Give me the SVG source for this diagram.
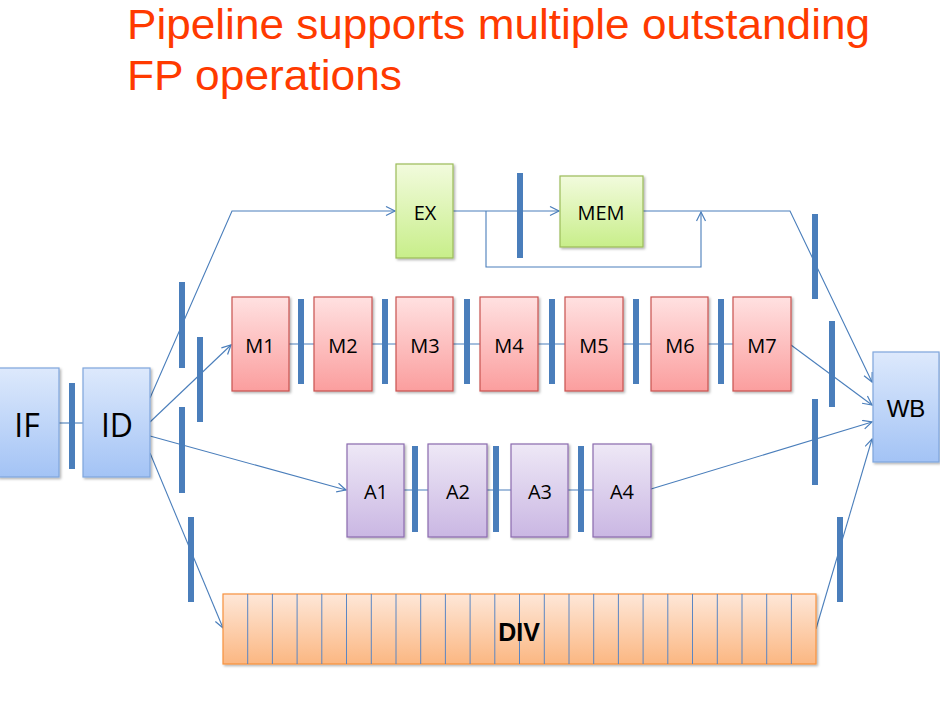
<svg xmlns="http://www.w3.org/2000/svg" width="940" height="706" viewBox="0 0 940 706">
<defs>
<linearGradient id="gBlue" x1="0" y1="0" x2="0" y2="1"><stop offset="0" stop-color="#dde9fc"/><stop offset="1" stop-color="#a3c3f5"/></linearGradient>
<linearGradient id="gRed" x1="0" y1="0" x2="0" y2="1"><stop offset="0" stop-color="#ffe1e1"/><stop offset="1" stop-color="#fb9e9e"/></linearGradient>
<linearGradient id="gGreen" x1="0" y1="0" x2="0" y2="1"><stop offset="0" stop-color="#f2fbdd"/><stop offset="1" stop-color="#c8ee8a"/></linearGradient>
<linearGradient id="gPurple" x1="0" y1="0" x2="0" y2="1"><stop offset="0" stop-color="#eee8f6"/><stop offset="1" stop-color="#cab7e3"/></linearGradient>
<linearGradient id="gOrange" x1="0" y1="0" x2="0" y2="1"><stop offset="0" stop-color="#fee7d8"/><stop offset="1" stop-color="#fbb782"/></linearGradient>
<filter id="sh" x="-10%" y="-10%" width="130%" height="130%"><feDropShadow dx="1.5" dy="1.5" stdDeviation="1.2" flood-color="#000" flood-opacity="0.3"/></filter>
<marker id="arr" markerWidth="12" markerHeight="12" refX="10" refY="5" orient="auto" markerUnits="userSpaceOnUse"><path d="M1,0.5 L10,5 L1,9.5" fill="none" stroke="#4a7ebb" stroke-width="1.2"/></marker>
</defs>
<style>
.title{font-family:"Liberation Sans",Arial,sans-serif;font-size:42px;fill:#ff3a00}
.lbl{font-family:"Open Sans","Liberation Sans",sans-serif;font-size:20px;fill:#000;text-anchor:middle;dominant-baseline:central}
.big{font-size:32px}
.wb{font-family:"Liberation Sans",Arial,sans-serif;font-size:24px}
.div{font-family:"Liberation Sans",Arial,sans-serif;font-size:25px;font-weight:bold}
.blue{fill:url(#gBlue);stroke:#7fa6dc;stroke-width:1.2;filter:url(#sh)}
.red{fill:url(#gRed);stroke:#c9524f;stroke-width:1.2;filter:url(#sh)}
.green{fill:url(#gGreen);stroke:#9bbb59;stroke-width:1.2;filter:url(#sh)}
.purple{fill:url(#gPurple);stroke:#8a6aae;stroke-width:1.2;filter:url(#sh)}
.orange{fill:url(#gOrange);stroke:#f7923e;stroke-width:1.2;filter:url(#sh)}
.bar{fill:#4a7ebb}
.ln{fill:none;stroke:#4a7ebb;stroke-width:1.1}
.cell{stroke:#5b86c3;stroke-width:1}
</style>
<text class="title" x="127" y="39" textLength="743" lengthAdjust="spacingAndGlyphs">Pipeline supports multiple outstanding</text>
<text class="title" x="127" y="90" textLength="275" lengthAdjust="spacingAndGlyphs">FP operations</text>

<g id="connectors">
<line class="ln" x1="59" y1="423" x2="83" y2="423"/>
<polyline class="ln" points="150,398 232,211 395,211" marker-end="url(#arr)"/>
<line class="ln" x1="453" y1="211" x2="559" y2="211" marker-end="url(#arr)"/>
<polyline class="ln" points="486,211 486,267 701,267 701,212" marker-end="url(#arr)"/>
<polyline class="ln" points="643,211 790,211 872,382" marker-end="url(#arr)"/>
<line class="ln" x1="150" y1="422" x2="231" y2="345" marker-end="url(#arr)"/>
<line class="ln" x1="289" y1="344" x2="733" y2="344"/>
<line class="ln" x1="791" y1="345" x2="872" y2="405" marker-end="url(#arr)"/>
<line class="ln" x1="150" y1="436" x2="346" y2="490" marker-end="url(#arr)"/>
<line class="ln" x1="404" y1="490" x2="593" y2="490"/>
<line class="ln" x1="651" y1="489" x2="872" y2="422" marker-end="url(#arr)"/>
<line class="ln" x1="150" y1="453" x2="223" y2="628" marker-end="url(#arr)"/>
<line class="ln" x1="816" y1="629" x2="872" y2="439" marker-end="url(#arr)"/>
</g>

<g id="registers">
<rect class="bar" x="69" y="383" width="6" height="86"/>
<rect class="bar" x="179" y="282" width="6" height="86"/>
<rect class="bar" x="197" y="337" width="6" height="85"/>
<rect class="bar" x="179" y="407" width="6" height="86"/>
<rect class="bar" x="188" y="517" width="6" height="85"/>
<rect class="bar" x="517" y="173" width="6" height="85"/>
<rect class="bar" x="298" y="299" width="6" height="85"/>
<rect class="bar" x="382" y="299" width="6" height="85"/>
<rect class="bar" x="464" y="299" width="6" height="85"/>
<rect class="bar" x="549" y="299" width="6" height="85"/>
<rect class="bar" x="633" y="299" width="6" height="85"/>
<rect class="bar" x="718" y="299" width="6" height="85"/>
<rect class="bar" x="412" y="446" width="6" height="86"/>
<rect class="bar" x="493" y="446" width="6" height="86"/>
<rect class="bar" x="578" y="446" width="6" height="86"/>
<rect class="bar" x="812" y="214" width="6" height="85"/>
<rect class="bar" x="829" y="321" width="6" height="86"/>
<rect class="bar" x="812" y="399" width="6" height="86"/>
<rect class="bar" x="837" y="517" width="6" height="85"/>
</g>

<g id="IF"><rect class="blue" x="-2" y="368" width="61" height="109"/><text class="lbl big" x="27" y="424">IF</text></g>
<g id="ID"><rect class="blue" x="83" y="368" width="67" height="109"/><text class="lbl big" x="117" y="424">ID</text></g>
<g id="EX"><rect class="green" x="396" y="164" width="57" height="94"/><text class="lbl" x="425" y="212">EX</text></g>
<g id="MEM"><rect class="green" x="560" y="176" width="83" height="71"/><text class="lbl" x="601" y="212">MEM</text></g>
<g id="M1"><rect class="red" x="232" y="297" width="57" height="94"/><text class="lbl" x="260" y="345">M1</text></g>
<g id="M2"><rect class="red" x="314" y="297" width="58" height="94"/><text class="lbl" x="343" y="345">M2</text></g>
<g id="M3"><rect class="red" x="396" y="297" width="57" height="94"/><text class="lbl" x="425" y="345">M3</text></g>
<g id="M4"><rect class="red" x="480" y="297" width="58" height="94"/><text class="lbl" x="509" y="345">M4</text></g>
<g id="M5"><rect class="red" x="565" y="297" width="58" height="94"/><text class="lbl" x="594" y="345">M5</text></g>
<g id="M6"><rect class="red" x="651" y="297" width="57" height="94"/><text class="lbl" x="680" y="345">M6</text></g>
<g id="M7"><rect class="red" x="733" y="297" width="58" height="94"/><text class="lbl" x="762" y="345">M7</text></g>
<g id="A1"><rect class="purple" x="347" y="444" width="57" height="93"/><text class="lbl" x="376" y="491">A1</text></g>
<g id="A2"><rect class="purple" x="428" y="444" width="59" height="93"/><text class="lbl" x="458" y="491">A2</text></g>
<g id="A3"><rect class="purple" x="511" y="444" width="57" height="93"/><text class="lbl" x="540" y="491">A3</text></g>
<g id="A4"><rect class="purple" x="593" y="444" width="58" height="93"/><text class="lbl" x="622" y="491">A4</text></g>
<g id="WB"><rect class="blue" x="873" y="352" width="66" height="110"/><text class="lbl wb" x="906" y="408">WB</text></g>
<g id="DIV">
<rect class="orange" x="223" y="594" width="593" height="70"/>
<g class="cell">
<line x1="247.7" y1="594" x2="247.7" y2="664"/><line x1="272.4" y1="594" x2="272.4" y2="664"/><line x1="297.1" y1="594" x2="297.1" y2="664"/><line x1="321.8" y1="594" x2="321.8" y2="664"/><line x1="346.5" y1="594" x2="346.5" y2="664"/><line x1="371.3" y1="594" x2="371.3" y2="664"/><line x1="396" y1="594" x2="396" y2="664"/><line x1="420.7" y1="594" x2="420.7" y2="664"/><line x1="445.4" y1="594" x2="445.4" y2="664"/><line x1="470.1" y1="594" x2="470.1" y2="664"/><line x1="494.8" y1="594" x2="494.8" y2="664"/><line x1="519.5" y1="594" x2="519.5" y2="664"/><line x1="544.3" y1="594" x2="544.3" y2="664"/><line x1="569" y1="594" x2="569" y2="664"/><line x1="593.7" y1="594" x2="593.7" y2="664"/><line x1="618.4" y1="594" x2="618.4" y2="664"/><line x1="643.1" y1="594" x2="643.1" y2="664"/><line x1="667.8" y1="594" x2="667.8" y2="664"/><line x1="692.5" y1="594" x2="692.5" y2="664"/><line x1="717.3" y1="594" x2="717.3" y2="664"/><line x1="742" y1="594" x2="742" y2="664"/><line x1="766.7" y1="594" x2="766.7" y2="664"/><line x1="791.4" y1="594" x2="791.4" y2="664"/>
</g>
<text class="lbl div" x="519" y="632">DIV</text>
</g>
</svg>
